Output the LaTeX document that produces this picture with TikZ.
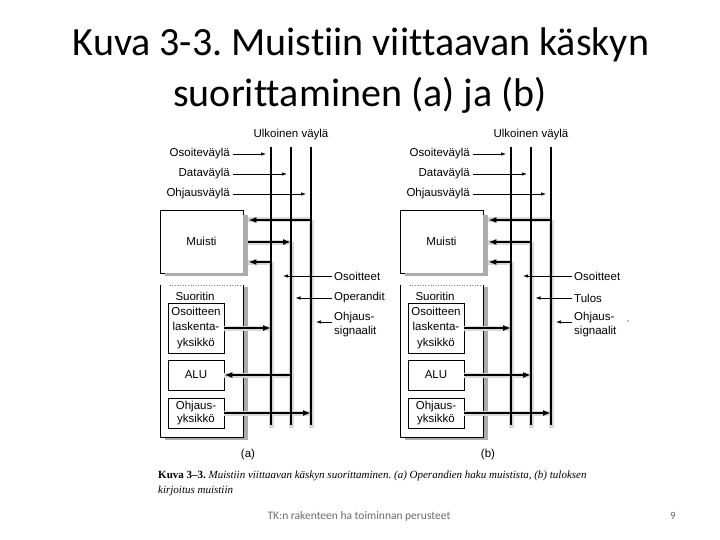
\documentclass[tikz,border=0pt]{standalone}
\usepackage{fontspec}
\setmainfont{Carlito}[Ligatures=NoCommon]
\newfontfamily\hv{Liberation Sans}
\newfontfamily\tms{Liberation Serif}
\usetikzlibrary{arrows.meta}
\frenchspacing
\tikzset{
  lbl/.style={font=\hv\fontsize{11.5}{14}\selectfont, inner sep=0pt},
  box/.style={draw, line width=0.6pt, inner sep=0pt, font=\hv\fontsize{11.5}{14}\selectfont, align=center},
  bus/.style={line width=2.4pt},
  halo/.style={line width=5pt, draw=gray!30},
  shade/.style={fill=gray!65},
  bigline/.style={line width=2.2pt},
  toR/.style={-{Latex[length=8pt,width=6pt]}},
  toL/.style={{Latex[length=8pt,width=6pt]}-},
  thinarr/.style={line width=0.7pt, -{Latex[length=5pt,width=3.5pt]}}
}
\newcommand{\drawpanel}[5]{%
\begin{scope}[xshift=#5]
  \coordinate (t1#1) at (271,147); \coordinate (e1#1) at (271,425);
  \coordinate (t2#1) at (291,147); \coordinate (e2#1) at (291,425);
  \coordinate (t3#1) at (311,147); \coordinate (e3#1) at (311,425);
  \coordinate (m1#1) at (311,220);
  \coordinate (m2#1) at (291,242);
  \coordinate (m3#1) at (271,262);
  % Muisti
  \node[box, minimum width=83pt, minimum height=63pt] (mu#1) at (201.5,241.5) {Muisti};
  \fill[shade] ([yshift=-5pt]mu#1.north east) rectangle ([xshift=5pt,yshift=-3pt]mu#1.south east);
  \fill[shade] ([xshift=5pt]mu#1.south west) rectangle ([xshift=5pt,yshift=-3pt]mu#1.south east);
  % Suoritin
  \node[minimum width=83pt, minimum height=152pt, inner sep=0pt] (su#1) at (201.5,361) {};
  \fill[shade] ([yshift=-2pt]su#1.north east) rectangle ([xshift=5pt,yshift=-3pt]su#1.south east);
  \fill[shade] ([xshift=5pt]su#1.south west) rectangle ([xshift=5pt,yshift=-3pt]su#1.south east);
  \draw[gray, dotted, line width=0.6pt] ([xshift=10pt]su#1.north west) -- (su#1.north east);
  \draw[line width=0.6pt] (su#1.north west) -- (su#1.south west) -- (su#1.south east) -- (su#1.north east);
  \node[lbl] (sut#1) at (195,296) {Suoritin};
  \node[box, minimum width=56pt, minimum height=50pt, font=\hv\fontsize{11.5}{15.5}\selectfont] (ol#1) at (196,328) {Osoitteen\\laskenta-\\yksikkö};
  \node[box, minimum width=56pt, minimum height=30pt] (alu#1) at (196,375) {ALU};
  \node[box, minimum width=56pt, minimum height=30pt, font=\hv\fontsize{11.5}{13.5}\selectfont] (ou#1) at (196,413) {Ohjaus-\\yksikkö};
  % halos
  \draw[halo] (m1#1) -- ([yshift=-3pt]e3#1);
  \draw[halo] (m2#1) -- ([yshift=-3pt]e2#1);
  \draw[halo] (m3#1) -- ([yshift=-3pt]e1#1);
  \draw[halo] (m1#1) -- ([xshift=5pt]mu#1.east |- m1#1);
  \draw[halo] (m2#1) -- ([xshift=5pt]mu#1.east |- m2#1);
  \draw[halo] (m3#1) -- ([xshift=5pt]mu#1.east |- m3#1);
  \draw[halo] (ol#1.east) -- (t1#1 |- ol#1.east);
  \draw[halo] (alu#1.east) -- (t2#1 |- alu#1.east);
  \draw[halo] (ou#1.east) -- (t3#1 |- ou#1.east);
  % buses
  \draw[bus] (t1#1) -- (e1#1);
  \draw[bus] (t2#1) -- (e2#1);
  \draw[bus] (t3#1) -- (e3#1);
  % memory arrows
  \draw[bigline, toL] ([xshift=5pt]mu#1.east |- m1#1) -- (m1#1);
  \draw[bigline, #3] ([xshift=5pt]mu#1.east |- m2#1) -- (m2#1);
  \draw[bigline, toL] ([xshift=5pt]mu#1.east |- m3#1) -- (m3#1);
  % CPU arrows
  \draw[bigline, toR] (ol#1.east) -- (t1#1 |- ol#1.east);
  \draw[bigline, #4] (alu#1.east) -- (t2#1 |- alu#1.east);
  \draw[bigline, toR] (ou#1.east) -- (t3#1 |- ou#1.east);
  % top labels
  \node[lbl] (uv#1) at (291,135) {Ulkoinen väylä};
  \node[lbl, anchor=east] (ov#1) at (230,154) {Osoiteväylä};
  \node[lbl, anchor=east] (dv#1) at (230,174) {Dataväylä};
  \node[lbl, anchor=east] (hv#1) at (230,194) {Ohjausväylä};
  \draw[thinarr] ([xshift=3pt]ov#1.east) -- ([xshift=-5pt]t1#1 |- ov#1.east);
  \draw[thinarr] ([xshift=3pt]dv#1.east) -- ([xshift=-4pt]t2#1 |- dv#1.east);
  \draw[thinarr] ([xshift=3pt]hv#1.east) -- ([xshift=-5pt]t3#1 |- hv#1.east);
  % right labels
  \node[lbl, anchor=west] (os#1) at (334,276) {Osoitteet};
  \node[lbl, anchor=west] (op#1) at (334,298) {#2};
  \node[lbl, anchor=west, align=left] (oh#1) at (334,325) {Ohjaus-\\signaalit};
  \draw[thinarr] ([xshift=-2pt]os#1.west) -- ([xshift=12pt]t1#1 |- os#1.west);
  \draw[thinarr] ([xshift=-2pt]op#1.west) -- ([xshift=4.5pt]t2#1 |- op#1.west);
  \draw[thinarr] ([xshift=-2pt,yshift=3pt]oh#1.west) -- ([xshift=5pt,yshift=3pt]t3#1 |- oh#1.west);
  \node[lbl] (pl#1) at (248,455) {(#1)};
\end{scope}}
\begin{document}
\begin{tikzpicture}[x=1pt,y=-1pt]
  \useasboundingbox[fill=white] (0,0) rectangle (720,540);
  \node[font=\fontsize{40}{48}\selectfont, inner sep=0pt] (t1) at (361,45) {Kuva 3-3. Muistiin viittaavan käskyn};
  \node[font=\fontsize{40}{48}\selectfont, inner sep=0pt] (t2) at (360,95) {suorittaminen (a) ja (b)};
  \drawpanel{a}{Operandit}{toR}{toL}{0pt}
  \drawpanel{b}{Tulos}{toL}{toR}{240pt}
  \fill[gray] (628,321) circle (0.8pt);
  \node[anchor=west, font=\tms\fontsize{11}{12}\selectfont, inner sep=0pt] (cap1) at (158,476) {\textbf{Kuva 3–3.} \textit{Muistiin viittaavan käskyn suorittaminen. (a) Operandien haku muistista, (b) tuloksen}};
  \node[anchor=west, font=\tms\fontsize{11}{12}\selectfont, inner sep=0pt] (cap2) at (158,491) {\textit{kirjoitus muistiin}};
  \node[font=\fontsize{11.5}{13}\selectfont, text=gray!85!black, inner sep=0pt] (ft) at (359,516) {TK:n rakenteen ha toiminnan perusteet};
  \node[font=\fontsize{11}{13}\selectfont, text=gray!85!black, inner sep=0pt] (pg) at (673,516) {9};
\end{tikzpicture}
\end{document}
